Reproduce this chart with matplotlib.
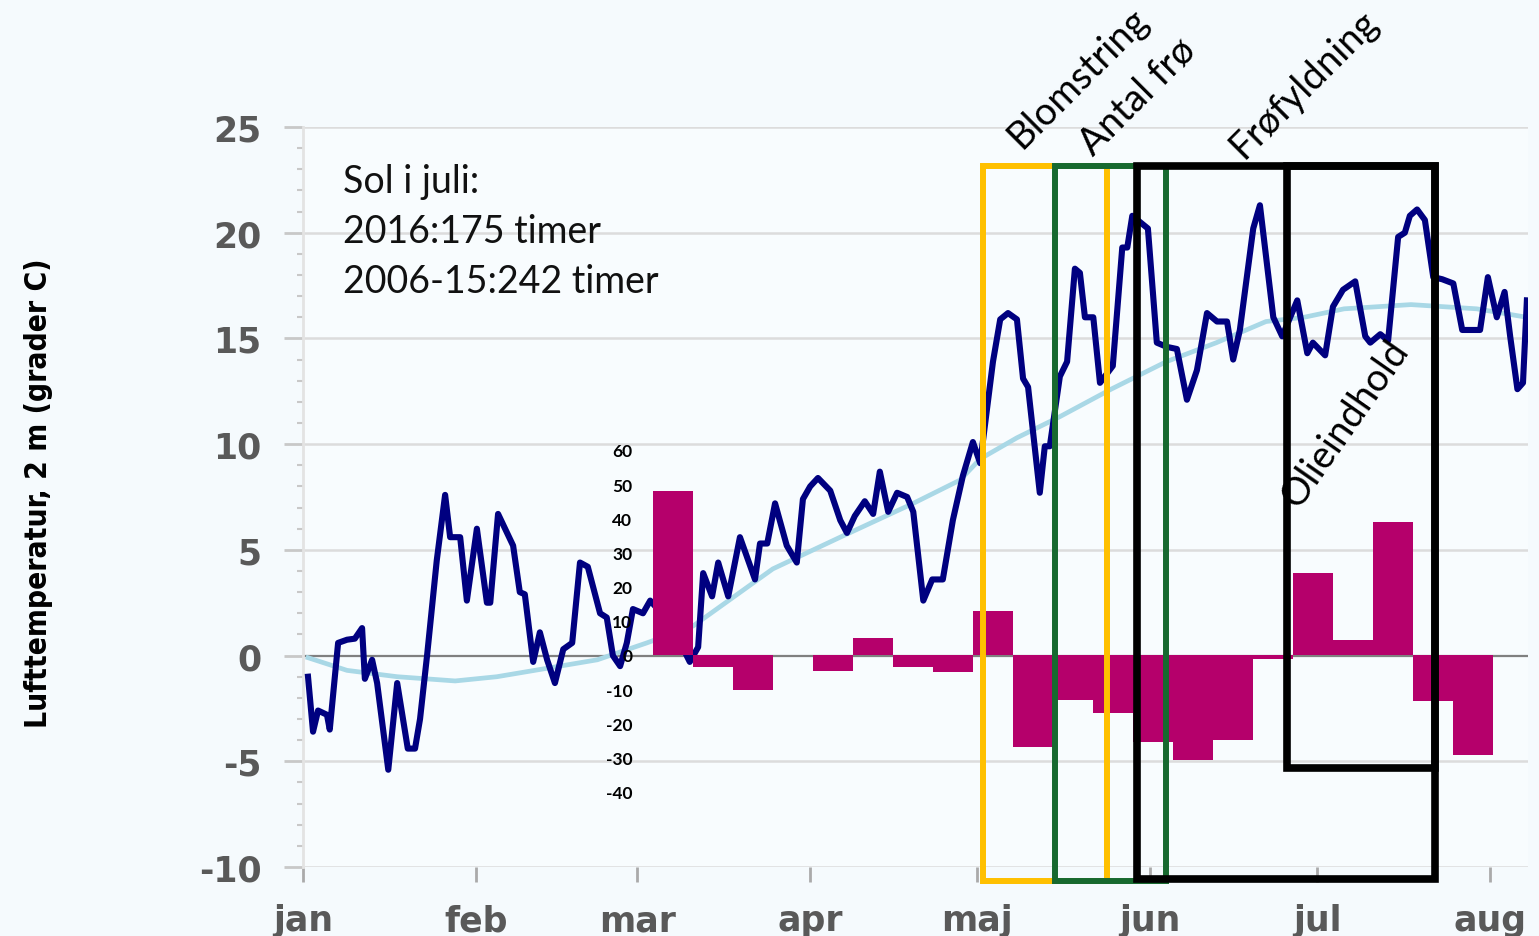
import numpy as np
import matplotlib.pyplot as plt
from matplotlib.patches import Rectangle

months = ['jan', 'feb', 'mar', 'apr', 'maj', 'jun', 'jul', 'aug']
month_start = [0, 31, 60, 91, 121, 152, 182, 213]

# daily air temperature 2016, day of year from 1 jan
temp_day = [0.9, 1.8, 2.7, 4.3, 4.8, 6.3, 7.9, 9.3, 10.6, 11.1, 12.4, 13.3, 15.3, 16.9, 18.8,
            20.1, 21.0, 22.3, 24.0, 25.5, 26.4, 28.2, 29.4, 31.2, 33.0, 33.6, 35.0, 37.7, 38.9,
            39.8, 41.3, 42.5, 43.8, 45.2, 46.7, 48.3, 49.7, 51.1, 53.3, 54.5, 55.6, 56.9, 58.1,
            59.2, 61.0, 62.3, 66.0, 69.4, 70.9, 71.8, 73.4, 74.5, 76.3, 78.4, 81.1, 82.0, 83.3,
            84.7, 86.8, 88.6, 89.7, 91.0, 92.4, 94.6, 96.4, 97.6, 99.0, 100.8, 102.3, 103.5,
            105.0, 106.6, 108.4, 109.5, 111.3, 112.9, 114.8, 116.6, 118.4, 120.2, 121.5, 123.8,
            125.1, 126.5, 128.1, 129.2, 130.1, 132.2, 133.1, 134.0, 135.8, 137.1, 138.5, 139.4,
            140.3, 141.8, 143.0, 145.3, 147.0, 147.9, 148.8, 150.2, 151.6, 153.2, 155.0, 156.8,
            158.6, 160.4, 162.2, 164.0, 165.8, 166.9, 168.1, 170.5, 171.7, 174.1, 175.7, 178.4,
            180.2, 181.2, 183.4, 184.8, 186.6, 188.8, 190.6, 191.5, 193.3, 194.7, 196.5, 197.7,
            198.6, 199.9, 201.3, 202.8, 204.4, 206.4, 208.0, 211.2, 212.6, 214.2, 215.6, 216.6,
            217.9, 218.9, 219.6]
temp_val = [-1.0, -3.6, -2.6, -2.8, -3.5, 0.6, 0.75, 0.8, 1.3, -1.1, -0.2, -1.3, -5.4, -1.3, -4.4,
            -4.4, -3.0, 0.1, 4.5, 7.6, 5.6, 5.6, 2.6, 6.0, 2.5, 2.5, 6.7, 5.2, 3.0,
            2.9, -0.3, 1.1, -0.2, -1.3, 0.3, 0.6, 4.4, 4.2, 2.0, 1.8, 0.0, -0.5, 0.6,
            2.2, 2.0, 2.6, 1.5, -0.3, 0.4, 3.9, 2.8, 4.4, 2.8, 5.6, 3.6, 5.3, 5.3,
            7.2, 5.2, 4.4, 7.4, 8.0, 8.4, 7.8, 6.4, 5.8, 6.6, 7.3, 6.7, 8.7,
            6.8, 7.7, 7.5, 6.8, 2.6, 3.6, 3.6, 6.4, 8.5, 10.1, 9.1, 13.9,
            15.9, 16.2, 15.9, 13.1, 12.7, 7.7, 9.9, 9.9, 13.2, 13.9, 18.3, 18.1,
            16.0, 16.0, 12.9, 13.7, 19.3, 19.3, 20.8, 20.5, 20.2, 14.8, 14.6, 14.5,
            12.1, 13.5, 16.2, 15.8, 15.8, 14.0, 15.4, 20.2, 21.3, 16.0, 15.1, 16.8,
            14.3, 14.8, 14.2, 16.5, 17.3, 17.7, 15.1, 14.8, 15.2, 14.9, 19.8, 20.0,
            20.8, 21.1, 20.6, 17.9, 17.8, 17.6, 15.4, 15.4, 17.9, 16.0, 17.2, 15.1,
            12.6, 12.9, 16.8]

# normal 2006-15
norm_day = [0.9, 7.9, 16.9, 27.3, 34.8, 43.8, 52.8, 61.7, 70.0, 84.3, 96.4, 109.5, 117.9,
            121.5, 128.1, 135.8, 145.0, 154.9, 163.9, 172.8, 179.6, 186.8, 198.8, 210.6, 219.6]
norm_val = [-0.1, -0.7, -1.0, -1.2, -1.0, -0.6, -0.2, 0.6, 1.4, 4.1, 5.6, 7.2, 8.3,
            9.3, 10.3, 11.3, 12.6, 13.9, 14.8, 15.8, 16.0, 16.4, 16.6, 16.4, 16.0]

# precipitation deviation per week (%)
bar_first = 62.8
bar_width = 7.18
bar_vals = [48, -3.5, -10.1, 0, -4.6, 4.9, -3.5, -4.9, 12.8, -27, -13.3, -17.1, -25.3,
            -30.8, -25, -1.2, 24, 4.3, 39, -13.6, -29.3]
bar_left = bar_first + bar_width * np.arange(len(bar_vals))

phases = [('#ffc000', 122.0, 144.3, -10.66, 23.16, 4.3),
          ('#17692f', 134.9, 154.9, -10.66, 23.16, 4.3),
          ('black', 149.6, 203.1, -10.57, 23.16, 5.5),
          ('black', 176.6, 203.1, -5.32, 23.16, 5.5)]

calibri = ['Lato', 'DejaVu Sans']

fig = plt.figure(figsize=(15.39, 9.37), dpi=100, facecolor='#f5fafd')
ax = fig.add_axes([303 / 1539, 69 / 937, (1528 - 303) / 1539, 740 / 937])
ax.set_facecolor('#f8fcfe')
ax.set_xlim(0, 219.8)
ax.set_ylim(-10, 25)
for s in ['top', 'right', 'bottom']:
    ax.spines[s].set_visible(False)
ax.spines['left'].set_color('#e3e3e3')
ax.spines['left'].set_linewidth(2)

for v in range(-10, 26, 5):
    if v == 0:
        ax.axhline(v, color='#808080', lw=1.6, zorder=1)
    else:
        ax.axhline(v, color='#dcdcdc', lw=1.8, zorder=0)

ax.set_yticks(range(-10, 26, 5))
ax.set_yticklabels([str(v) for v in range(-10, 26, 5)], fontsize=25, fontweight='bold', color='#595959')
ax.set_yticks(range(-10, 26), minor=True)
ax.tick_params(axis='y', which='major', length=14, width=2, color='#c8c8c8', pad=16)
ax.tick_params(axis='y', which='minor', length=4, width=1.5, color='#c8c8c8')
ax.set_xticks(month_start)
ax.set_xticklabels(months, fontsize=25, fontweight='bold', color='#595959')
ax.tick_params(axis='x', length=11, width=2, color='#aaaaaa', pad=15)

ax.plot(norm_day, norm_val, color='#a9d8e6', lw=3.4, zorder=3)
ax.plot(temp_day, temp_val, color='#000080', lw=4.4, zorder=4)

ax.text(7.2, 21.93, 'Sol i juli:', fontsize=27, family=calibri, color='#111111')
ax.text(7.2, 19.56, '2016:175 timer', fontsize=27, family=calibri, color='#111111')
ax.text(7.2, 17.19, '2006-15:242 timer', fontsize=27, family=calibri, color='#111111')

fig.text(0.025, 0.474, 'Lufttemperatur, 2 m (grader C)', rotation=90, va='center', ha='center',
         fontsize=21.5, fontweight='bold', fontstretch='condensed',
         family=['DejaVu Sans Condensed', 'Liberation Sans Narrow', 'DejaVu Sans'])

ax2 = ax.twinx()
ax2.set_ylim(-62, 154.4)
ax2.bar(bar_left, bar_vals, width=bar_width, align='edge', color='#b5006b', zorder=2)
for s in ['top', 'right', 'bottom', 'left']:
    ax2.spines[s].set_visible(False)
ax2.yaxis.tick_left()
ax2.spines['left'].set_position(('data', 59.6))
ax2.set_yticks(range(-40, 61, 10))
ax2.set_yticklabels([str(v) for v in range(-40, 61, 10)], fontsize=12.5, fontweight='bold', family=calibri)
ax2.tick_params(axis='y', length=0, pad=2)
ax2.set_xlim(0, 219.8)

for col, x0, x1, y0, y1, lw in phases:
    r = Rectangle((x0, y0), x1 - x0, y1 - y0, fill=False, edgecolor=col, lw=lw,
                  transform=ax.transData, joinstyle='miter')
    ax2.add_artist(r)
    r.set_clip_on(False)
    r.set_zorder(6)

labels = [('Blomstring', 129.0, 23.96, 45), ('Antal frø', 141.8, 23.63, 45),
          ('Frøfyldning', 168.7, 23.49, 45), ('Olieindhold', 178.5, 6.93, 55)]
for txt, x, y, rot in labels:
    t = ax2.text(x, y, txt, transform=ax.transData, rotation=rot, rotation_mode='anchor',
                 ha='left', va='baseline', fontsize=27.5, family=calibri, color='black', zorder=7)
    t.set_clip_on(False)

fig.savefig('out.png', dpi=100, facecolor=fig.get_facecolor())
